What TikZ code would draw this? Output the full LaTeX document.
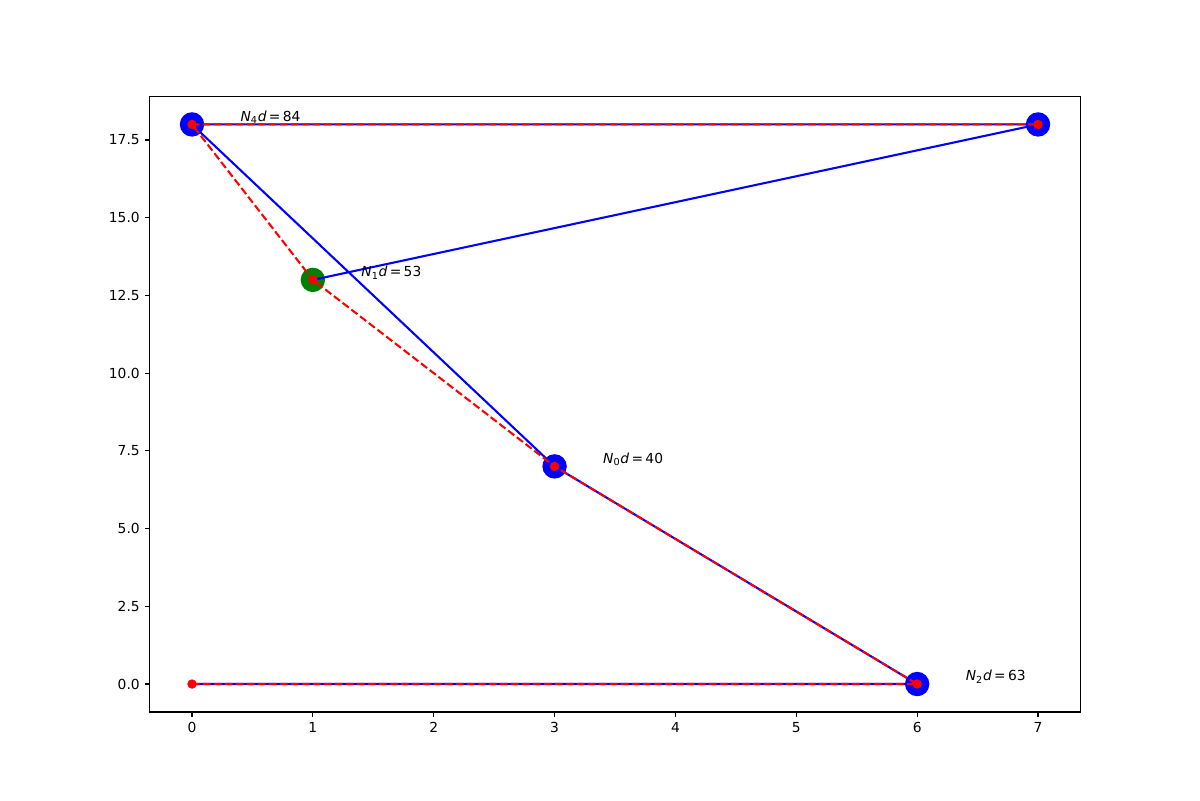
\documentclass[tikz,border=0pt]{standalone}
\usepackage{fontspec}
\setmainfont{DejaVu Sans}
\usepackage{xcolor}
\usepackage{tikz}
\usetikzlibrary{positioning}
\definecolor{mplblue}{HTML}{0000FF}
\definecolor{mplred}{HTML}{FF0000}
\definecolor{mplgreen}{HTML}{008000}

\begin{document}
\begin{tikzpicture}[
  x=0.254mm, y=-0.254mm,
  bigdot/.style={circle, fill=#1, minimum size=6.2mm, inner sep=0pt},
  reddot/.style={circle, fill=mplred, minimum size=2.4mm, inner sep=0pt},
  blueline/.style={mplblue, line width=1.5pt},
  redline/.style={mplred, line width=1.5pt, dash pattern=on 5.55pt off 2.4pt},
  axtick/.style={line width=0.8pt},
  ticklabel/.style={inner sep=0pt, font=\normalsize},
  lbl/.style={anchor=base west, inner sep=0pt},
]
\useasboundingbox (0,0) rectangle (1200,800);

\begin{scope}[xshift=48.768mm, yshift=-173.736mm, x=30.698mm, y=7.896mm]

% Axes
\draw[line width=0.8pt] (-0.35,-0.9) rectangle (7.35,18.9);
\foreach \x in {0,...,7} {
  \draw[axtick] (\x,-0.9) -- ++(0,-3.5pt);
  \node[ticklabel, anchor=north] (xt\x) at ([yshift=-7pt]\x,-0.9) {\x};
}
\foreach \y in {0.0,2.5,5.0,7.5,10.0,12.5,15.0,17.5} {
  \draw[axtick] (-0.35,\y) -- ++(-3.5pt,0);
  \node[ticklabel, anchor=east] at ([xshift=-7pt]-0.35,\y) {\y};
}

% Points
\coordinate (n5) at (0,0);
\coordinate (n2) at (6,0);
\coordinate (n0) at (3,7);
\coordinate (n1) at (1,13);
\coordinate (n4) at (0,18);
\coordinate (n3) at (7,18);

% Big markers
\node[bigdot=mplblue] (m4) at (n4) {};
\node[bigdot=mplblue] (m3) at (n3) {};
\node[bigdot=mplgreen] (m1) at (n1) {};
\node[bigdot=mplblue] (m0) at (n0) {};
\node[bigdot=mplblue] (m2) at (n2) {};

% Paths
\draw[blueline] (n5) -- (n2) -- (n0) -- (n4) -- (n3) -- (n1);
\draw[redline] (n5) -- (n2) -- (n0) -- (n1) -- (n4) -- (n3);

% Red dots
\foreach \p in {n0,n1,n2,n3,n4,n5}
  \node[reddot] (r\p) at (\p) {};

% Labels
\node[lbl] (l4) at (0.4,18.1) {\textit{N}\textsubscript{4}\textit{d}\,=\,84};
\node[lbl] (l1) at (1.4,13.1) {\textit{N}\textsubscript{1}\textit{d}\,=\,53};
\node[lbl] (l0) at (3.4,7.1) {\textit{N}\textsubscript{0}\textit{d}\,=\,40};
\node[lbl] (l2) at (6.4,0.1) {\textit{N}\textsubscript{2}\textit{d}\,=\,63};

\end{scope}
\end{tikzpicture}
\end{document}
